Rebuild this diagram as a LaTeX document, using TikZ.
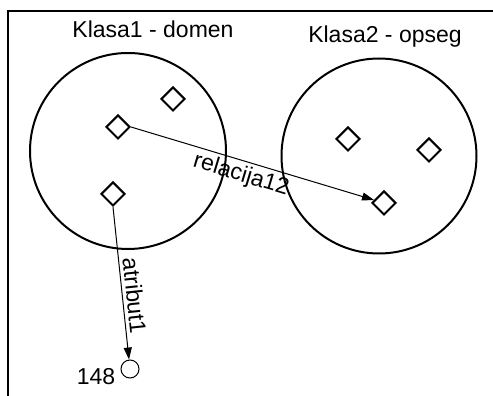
\documentclass[tikz,border=0pt]{standalone}
\usepackage{fontspec}
\setmainfont{Liberation Sans}
\usepackage{tikz}
\usetikzlibrary{
  arrows.meta, positioning, shapes.geometric
}

\begin{document}
\begin{tikzpicture}[
    x=1pt, y=1pt,
    title/.style={font=\fontsize{23}{26}\selectfont, anchor=base},
    setcircle/.style={draw, circle, line width=2pt, inner sep=0pt},
    elem/.style={draw, diamond, line width=2pt, inner sep=0pt,
                 minimum width=24pt, minimum height=24pt},
    valnode/.style={draw, circle, line width=1pt, inner sep=0pt, minimum size=18pt},
    lbl/.style={font=\fontsize{23}{26}\selectfont},
    arrow/.style={-{Triangle[length=12pt, width=8pt]}, line width=1pt},
  ]
    \useasboundingbox (0,0) rectangle (493,396);

    % frame
    \draw[line width=2pt] (8,-2) -- (8,385) -- (495,385);

    % titles
    \node[title] (t1) at (153,358) {Klasa1 - domen};
    \node[title] (t2) at (385,353) {Klasa2 - opseg};

    % sets
    \node[setcircle, minimum size=196pt] (dom) at (128,245) {};
    \node[setcircle, minimum size=195pt] (ops) at (379,240) {};

    % elements of Klasa1
    \node[elem] (a1) at (173,297) {};
    \node[elem] (a2) at (118,269) {};
    \node[elem] (a3) at (113,202) {};

    % elements of Klasa2
    \node[elem] (b1) at (348,257) {};
    \node[elem] (b2) at (429,246) {};
    \node[elem] (b3) at (384,193) {};

    % value
    \node[valnode] (val) at (130,27) {};
    \node[lbl] (num) at (96,19) {148};

    % Arrows
    \draw[arrow] (a2.east) -- (b3)
      node[pos=0.47, below, sloped, lbl] {relacija12};
    \draw[arrow] (a3.south) -- (val)
      node[pos=0.59, above, sloped, lbl] {atribut1};
\end{tikzpicture}
\end{document}
